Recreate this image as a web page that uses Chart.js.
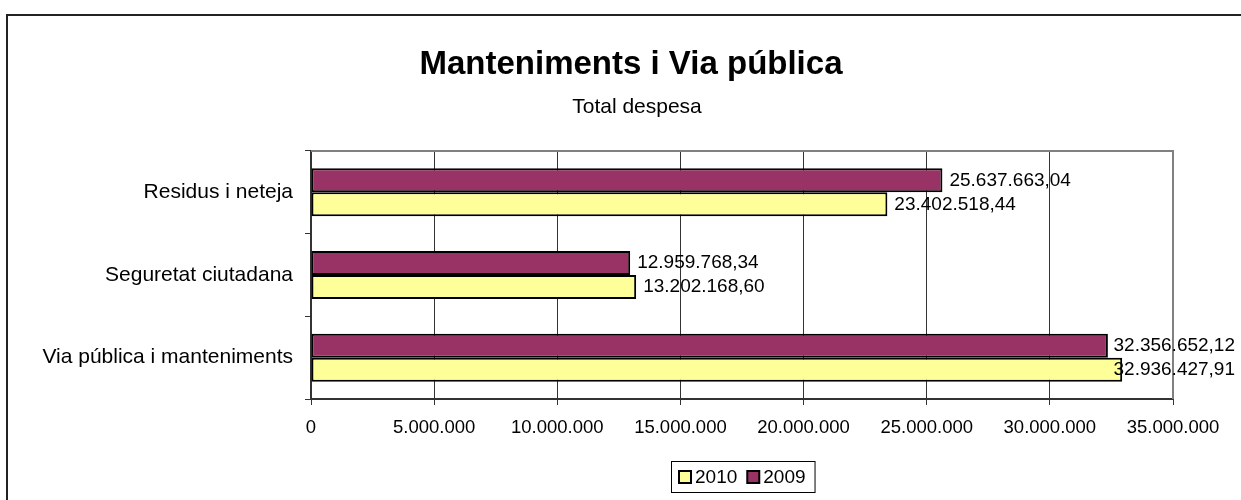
<!DOCTYPE html>
<html>
<head>
<meta charset="utf-8">
<script src="https://cdn.jsdelivr.net/npm/chart.js@4.4.1/dist/chart.umd.min.js"></script>
<style>
  html, body { margin: 0; padding: 0; background: #fff; }
  #wrap { width: 1241px; height: 500px; position: relative; }
</style>
</head>
<body>
<div id="wrap"><canvas id="chart"></canvas></div>
<script>
const categories = ["Residus i neteja", "Seguretat ciutadana", "Via pública i manteniments"]
const values2009 = [25637663.04, 12959768.34, 32356652.12]
const values2010 = [23402518.44, 13202168.60, 32936427.91]
const xTicks = [0, 5000000, 10000000, 15000000, 20000000, 25000000, 30000000, 35000000]
const titleText = "Manteniments i Via pública"
const subtitleText = "Total despesa"

const FONT = "'Liberation Sans', Arial, sans-serif"

// 25637663.04 -> "25.637.663,04"
function fmt(v, dec) {
  const parts = v.toFixed(dec).split(".")
  parts[0] = parts[0].replace(/\B(?=(\d{3})+(?!\d))/g, ".")
  return parts.join(",")
}

const frame = {
  id: "frame",
  beforeDraw(chart) {
    const ctx = chart.ctx
    ctx.save()
    ctx.fillStyle = "#fff"
    ctx.fillRect(0, 0, chart.width, chart.height)
    ctx.strokeStyle = "#222"
    ctx.lineWidth = 2
    ctx.strokeRect(7, 15, 1400, 700)
    // title + subtitle
    ctx.fillStyle = "#000"
    ctx.textAlign = "center"
    ctx.textBaseline = "alphabetic"
    ctx.font = "bold 33px " + FONT
    ctx.fillText(titleText, 631, 74)
    ctx.font = "21px " + FONT
    ctx.fillText(subtitleText, 637, 113)
    ctx.restore()
  },
  beforeDatasetsDraw(chart) {
    const { ctx, chartArea: a } = chart
    ctx.save()
    ctx.strokeStyle = "#808080"
    ctx.lineWidth = 2
    ctx.beginPath()
    ctx.moveTo(a.left, a.top)
    ctx.lineTo(a.right, a.top)
    ctx.lineTo(a.right, a.bottom)
    ctx.stroke()
    ctx.restore()
  },
  afterDatasetsDraw(chart) {
    const ctx = chart.ctx
    ctx.save()
    ctx.font = "19px " + FONT
    ctx.fillStyle = "#000"
    ctx.textAlign = "left"
    ctx.textBaseline = "middle"
    chart.data.datasets.forEach((ds, di) => {
      chart.getDatasetMeta(di).data.forEach((el, i) => {
        const txt = fmt(ds.data[i], 2)
        const w = ctx.measureText(txt).width
        let x = el.x + 7
        if (x + w > 1235) x = 1235 - w
        ctx.fillText(txt, x, el.y)
      })
    })
    ctx.restore()
  },
  afterDraw(chart) {
    // legend, reversed order like the original
    const ctx = chart.ctx
    const items = chart.data.datasets.slice().reverse()
    ctx.save()
    ctx.font = "19px " + FONT
    const box = 12, gapText = 4, gapItem = 10
    let total = 0
    items.forEach((ds, i) => {
      total += box + gapText + ctx.measureText(ds.label).width
      if (i < items.length - 1) total += gapItem
    })
    const cx = (chart.chartArea.left + chart.chartArea.right) / 2
    const cy = 477
    let x = Math.round(cx - total / 2)
    ctx.strokeStyle = "#000"
    ctx.lineWidth = 1
    ctx.strokeRect(x - 7.5, cy - 15.5, total + 17, 31)
    ctx.textBaseline = "middle"
    ctx.textAlign = "left"
    items.forEach(ds => {
      ctx.fillStyle = ds.backgroundColor
      ctx.fillRect(x, cy - 6, box, box)
      ctx.lineWidth = 2
      ctx.strokeRect(x, cy - 6, box, box)
      x += box + gapText
      ctx.fillStyle = "#000"
      ctx.fillText(ds.label, x, cy + 1)
      x += ctx.measureText(ds.label).width + gapItem
    })
    ctx.restore()
  }
}

new Chart(document.getElementById("chart"), {
  type: "bar",
  data: {
    labels: categories,
    datasets: [
      {
        label: "2009",
        data: values2009,
        backgroundColor: "#993366",
        borderColor: "#000",
        borderWidth: 2,
        borderSkipped: false
      },
      {
        label: "2010",
        data: values2010,
        backgroundColor: "#FFFF99",
        borderColor: "#000",
        borderWidth: 2,
        borderSkipped: false
      }
    ]
  },
  options: {
    indexAxis: "y",
    responsive: true,
    maintainAspectRatio: false,
    devicePixelRatio: 1,
    animation: false,
    categoryPercentage: 0.58,
    barPercentage: 1,
    layout: { padding: { top: 151, right: 68, bottom: 60, left: 0 } },
    plugins: {
      legend: { display: false },
      title: { display: false },
      tooltip: { enabled: false }
    },
    scales: {
      x: {
        type: "linear",
        min: 0,
        max: 35000000,
        afterBuildTicks: s => { s.ticks = xTicks.map(v => ({ value: v })) },
        afterFit: s => { s.height = 41 },
        grid: { color: "#333", lineWidth: 1, tickLength: 6 },
        border: { color: "#333", width: 2 },
        ticks: {
          color: "#000",
          font: { family: FONT, size: 18.5 },
          padding: 12,
          maxRotation: 0,
          callback: v => fmt(v, 0)
        }
      },
      y: {
        type: "category",
        afterFit: s => { s.width = 311 },
        grid: { drawOnChartArea: false, offset: true, tickLength: 6, color: "#333" },
        border: { color: "#333", width: 2 },
        ticks: {
          color: "#000",
          font: { family: FONT, size: 21 },
          padding: 12
        }
      }
    }
  },
  plugins: [frame]
})
</script>
</body>
</html>
